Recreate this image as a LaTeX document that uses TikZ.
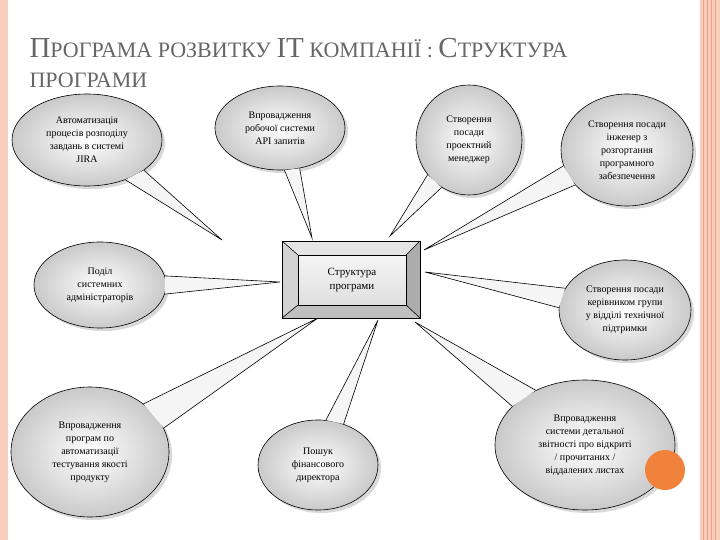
\documentclass[tikz,border=0pt]{standalone}
\usepackage{fontspec}
\setmainfont{Liberation Serif}
\usetikzlibrary{shapes.geometric,shadows}
\definecolor{pinkb}{RGB}{247,205,188}
\definecolor{pinkd}{RGB}{236,160,135}
\definecolor{orng}{RGB}{240,130,60}
\tikzset{
 bub/.style={ellipse,draw=black,line width=0.6pt,shading=radial,inner color=white,outer color=gray!42,
   inner sep=0pt,drop shadow={opacity=0.3,shadow xshift=3pt,shadow yshift=-3pt}},
 btxt/.style={align=center,inner sep=0pt,font=\fontsize{10}{13}\selectfont},
 tailf/.style={fill=gray!8},
 taild/.style={draw=black,line width=0.6pt},
}
\newcommand{\tail}[4]{% node, angle1, angle2, tip
 \fill[tailf] (#1.#2) -- (#4) -- (#1.#3) -- cycle;
 \draw[taild] (#1.#2) -- (#4) -- (#1.#3);}
\begin{document}
\begin{tikzpicture}[x=1pt,y=-1pt]
\useasboundingbox (0,0) rectangle (720,540);
\fill[white] (0,0) rectangle (720,540);
\fill[pinkb] (0,0) rectangle (8,540);
\fill[pinkb] (700,0) rectangle (720,540);
\foreach \x in {703,707,711,715} \draw[pinkd,line width=0.8pt] (\x,0) -- (\x,540);
% title
\node[anchor=west,text=gray!80!black,font=\fontsize{22}{25}\selectfont] (t1) at (26,48)
 {{\fontsize{29}{32}\selectfont П}РОГРАМА РОЗВИТКУ {\fontsize{29}{32}\selectfont IT} КОМПАНІЇ : {\fontsize{29}{32}\selectfont С}ТРУКТУРА};
\node[anchor=west,text=gray!80!black,font=\fontsize{22}{25}\selectfont] (t2) at (26,80) {ПРОГРАМИ};
% tips
\coordinate (p1) at (222,240);
\coordinate (p2) at (312,238);
\coordinate (p3) at (390,236);
\coordinate (p4) at (424,250);
\coordinate (p5) at (280,282);
\coordinate (p6) at (425,272);
\coordinate (p7) at (318,318);
\coordinate (p8) at (378,320);
\coordinate (p9) at (415,322);
% bubbles
\node[bub,minimum width=150pt,minimum height=92pt] (e1) at (87,140) {};
\node[bub,minimum width=130pt,minimum height=84pt] (e2) at (280,128) {};
\node[bub,minimum width=106pt,minimum height=110pt] (e3) at (469,140) {};
\node[bub,minimum width=132pt,minimum height=112pt] (e4) at (627,150) {};
\node[bub,minimum width=132pt,minimum height=86pt] (e5) at (100,285) {};
\node[bub,minimum width=132pt,minimum height=100pt] (e6) at (625,310) {};
\node[bub,minimum width=158pt,minimum height=130pt] (e7) at (90,452) {};
\node[bub,minimum width=120pt,minimum height=90pt] (e8) at (318,465) {};
\node[bub,minimum width=180pt,minimum height=130pt] (e9) at (585,445) {};
% tails
\tail{e1}{-46}{-28}{p1}
\tail{e2}{-84}{-64}{p2}
\tail{e3}{-140}{-120}{p3}
\tail{e4}{-166}{-146}{p4}
\tail{e5}{-8}{8}{p5}
\tail{e6}{160}{178}{p6}
\tail{e7}{18}{42}{p7}
\tail{e8}{58}{80}{p8}
\tail{e9}{132}{152}{p9}
% texts
\node[btxt] (x1) at (e1) {Автоматизація\\процесів розподілу\\завдань в системі\\JIRA};
\node[btxt] (x2) at (e2) {Впровадження\\робочої системи\\API запитів};
\node[btxt] (x3) at (e3) {Створення\\посади\\проектний\\менеджер};
\node[btxt] (x4) at (e4) {Створення посади\\інженер з\\розгортання\\програмного\\забезпечення};
\node[btxt] (x5) at (e5) {Поділ\\системних\\адміністраторів};
\node[btxt] (x6) at (e6) {Створення посади\\керівником групи\\у відділі технічної\\підтримки};
\node[btxt] (x7) at (e7) {Впровадження\\програм по\\автоматизації\\тестування якості\\продукту};
\node[btxt] (x8) at (e8) {Пошук\\фінансового\\директора};
\node[btxt] (x9) at (e9) {Впровадження\\системи детальної\\звітності про відкриті\\/ прочитаних /\\віддалених листах};
% orange dot
\fill[orng] (665,470) circle (20);
% central bevel box
\fill[gray!20] (282,241) -- (420,241) -- (406,255) -- (298,255) -- cycle;
\fill[gray!35] (282,241) -- (298,255) -- (298,305) -- (282,318) -- cycle;
\fill[gray!65] (420,241) -- (420,318) -- (406,305) -- (406,255) -- cycle;
\fill[gray!50] (282,318) -- (420,318) -- (406,305) -- (298,305) -- cycle;
\draw[black,line width=0.6pt] (282,241) -- (298,255) (420,241) -- (406,255) (282,318) -- (298,305) (420,318) -- (406,305);
\draw[black,line width=0.8pt] (282,241) rectangle (420,318);
\node[draw=black,line width=0.6pt,shading=axis,top color=gray!8,bottom color=gray!25,minimum width=108pt,minimum height=50pt,
  align=center,font=\fontsize{11}{14}\selectfont] (c) at (352,280) {Структура\\програми};
\end{tikzpicture}
\end{document}
